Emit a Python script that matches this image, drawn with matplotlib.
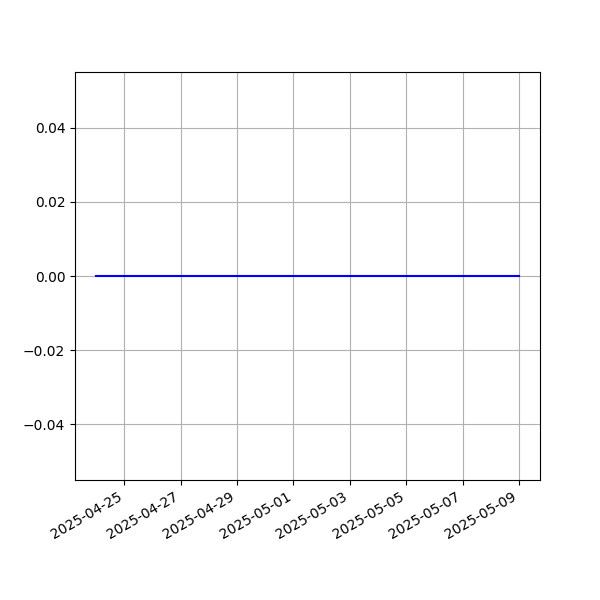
import matplotlib
matplotlib.use('Agg')
import matplotlib.pyplot as plt
import pandas as pd

# daily values, all flat at zero
dates = pd.date_range('2025-04-24', '2025-05-09', freq='D')
values = [0, 0, 0, 0, 0, 0, 0, 0, 0, 0, 0, 0, 0, 0, 0, 0]

fig, ax = plt.subplots(figsize=(6, 6), dpi=100)
ax.plot(dates, values, color='blue')
ax.grid()
fig.autofmt_xdate()
plt.savefig('out.png', dpi=100)
plt.close()
